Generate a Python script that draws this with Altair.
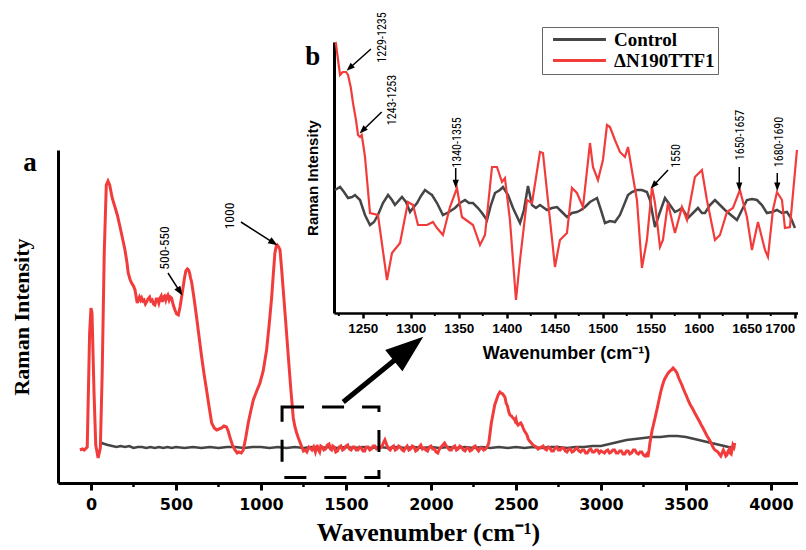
import altair as alt
import pandas as pd

# ---------------- data ----------------
SERIES = ["Control", "ΔN190TTF1"]
SERIES_COLORS = ["#454545", "#f23c3c"]

# main panel (a): (wavenumber, intensity a.u.)
main_mutant = [
    (-65, 33), (-50, 34), (-40, 33), (-22, 36), (-8, 150), (0, 175), (6, 170), (18, 90), (28, 38),
    (42, 25), (55, 35), (66, 110), (78, 230), (90, 298), (100, 302), (110, 298), (125, 285), (141, 276),
    (155, 268), (171, 256), (185, 245), (200, 233), (212, 220), (219, 210), (229, 204), (239, 200),
    (250, 197), (259, 193), (266, 186), (272, 180), (280, 184), (285, 186), (292, 183), (298, 185),
    (305, 182), (312, 183), (320, 179), (327, 181), (335, 184), (345, 186), (352, 182), (360, 183),
    (368, 179), (376, 178), (384, 184), (392, 184), (399, 180), (406, 185), (413, 187), (420, 181),
    (427, 186), (433, 187), (440, 183), (445, 186), (452, 188), (460, 183), (467, 186), (474, 185),
    (484, 178), (494, 173), (504, 169), (514, 168), (524, 176), (533, 186), (542, 196), (550, 205),
    (558, 212), (567, 214), (574, 213), (580, 210), (586, 205), (592, 201), (606, 185), (621, 166),
    (636, 146), (651, 126), (666, 108), (680, 93), (695, 76), (710, 60), (725, 55), (739, 53),
    (753, 54), (768, 55), (782, 57), (797, 56), (807, 52), (817, 46), (832, 38), (847, 33), (860, 30),
    (870, 31), (884, 30), (896, 33), (910, 45), (925, 60), (940, 72), (955, 83), (975, 92), (994, 100),
    (1013, 112), (1033, 133), (1048, 158), (1063, 186), (1073, 210), (1082, 230), (1090, 237),
    (1096, 238), (1104, 236), (1112, 233), (1121, 215), (1131, 193), (1146, 160), (1161, 126),
    (1175, 95), (1190, 65), (1200, 56), (1210, 50), (1220, 45), (1229, 41), (1240, 36), (1250, 32),
    (1260, 33), (1270, 31), (1282, 36), (1290, 35), (1300, 33), (1310, 36), (1320, 31), (1330, 38),
    (1338, 33), (1345, 31), (1352, 37), (1360, 36), (1370, 33), (1380, 34), (1390, 38), (1400, 39),
    (1408, 34), (1415, 33), (1422, 37), (1430, 36), (1440, 31), (1450, 32), (1460, 36), (1470, 37),
    (1480, 33), (1490, 34), (1500, 37), (1510, 38), (1520, 34), (1530, 33), (1540, 36), (1550, 36),
    (1560, 33), (1570, 33), (1580, 36), (1590, 35), (1600, 32), (1610, 32), (1620, 36), (1630, 36),
    (1640, 33), (1650, 34), (1660, 37), (1670, 37), (1680, 34), (1690, 35), (1700, 35), (1710, 36),
    (1720, 40), (1729, 43), (1738, 39), (1745, 36), (1752, 34), (1760, 33), (1770, 36), (1780, 37),
    (1790, 33), (1800, 34), (1810, 37), (1820, 36), (1830, 33), (1840, 32), (1850, 35), (1860, 37),
    (1870, 33), (1880, 34), (1890, 37), (1900, 36), (1910, 32), (1920, 33), (1930, 36), (1940, 38),
    (1950, 34), (1960, 35), (1970, 33), (1980, 32), (1990, 36), (2000, 37), (2010, 34), (2020, 34),
    (2030, 31), (2040, 30), (2050, 34), (2060, 36), (2070, 38), (2080, 40), (2090, 37), (2100, 35),
    (2110, 33), (2120, 33), (2130, 36), (2140, 37), (2150, 33), (2160, 34), (2170, 37), (2180, 36),
    (2190, 33), (2200, 32), (2210, 35), (2220, 35), (2230, 32), (2240, 33), (2250, 36), (2260, 37),
    (2270, 34), (2280, 32), (2290, 35), (2300, 35), (2310, 33), (2320, 34), (2330, 36), (2340, 40),
    (2355, 60), (2375, 78), (2395, 88), (2405, 91), (2412, 90), (2422, 89), (2435, 86), (2442, 80),
    (2450, 77), (2458, 71), (2465, 68), (2474, 67), (2482, 65), (2490, 64), (2495, 62), (2500, 64),
    (2505, 60), (2512, 58), (2520, 59), (2528, 60), (2535, 58), (2542, 55), (2550, 52), (2558, 50),
    (2565, 48), (2572, 44), (2580, 42), (2590, 40), (2600, 38), (2610, 37), (2620, 36), (2630, 34),
    (2641, 35), (2650, 36), (2660, 37), (2670, 34), (2680, 33), (2690, 36), (2700, 35), (2710, 32),
    (2720, 32), (2730, 35), (2740, 36), (2750, 33), (2760, 33), (2770, 35), (2780, 35), (2790, 32),
    (2800, 31), (2810, 34), (2820, 34), (2830, 31), (2840, 32), (2850, 34), (2860, 35), (2870, 32),
    (2880, 31), (2890, 33), (2900, 33), (2910, 30), (2920, 30), (2930, 33), (2940, 34), (2950, 31),
    (2960, 31), (2970, 33), (2980, 33), (2990, 30), (3000, 32), (3010, 31), (3020, 30), (3030, 32),
    (3040, 33), (3050, 30), (3060, 31), (3070, 33), (3080, 33), (3090, 30), (3100, 30), (3110, 32),
    (3120, 32), (3130, 29), (3140, 29), (3150, 32), (3160, 32), (3170, 29), (3180, 30), (3190, 33),
    (3200, 33), (3210, 30), (3220, 29), (3230, 31), (3240, 31), (3250, 28), (3260, 27), (3270, 29),
    (3276, 26), (3282, 32), (3288, 40), (3300, 52), (3318, 65), (3330, 74), (3340, 82), (3350, 90),
    (3359, 96), (3368, 101), (3375, 104), (3388, 108), (3396, 110), (3405, 112), (3414, 113),
    (3424, 115), (3435, 113), (3447, 110), (3453, 107), (3460, 104), (3468, 101), (3476, 98),
    (3485, 94), (3495, 90), (3503, 87), (3512, 83), (3526, 78), (3540, 74), (3552, 70), (3565, 66),
    (3578, 62), (3590, 58), (3600, 55), (3612, 51), (3624, 47), (3635, 44), (3645, 41), (3653, 38),
    (3662, 35), (3670, 33), (3680, 32), (3688, 31), (3696, 29), (3705, 27), (3712, 30), (3720, 33),
    (3728, 30), (3735, 27), (3741, 28), (3748, 32), (3755, 34), (3760, 30), (3766, 29), (3771, 33),
    (3776, 38), (3782, 36), (3787, 40),
]

main_control = [
    (55, 38), (65, 40), (80, 39), (100, 38), (125, 37), (150, 36), (175, 37), (200, 36), (225, 37),
    (250, 35), (275, 36), (300, 36), (325, 35), (350, 36), (375, 35), (400, 36), (425, 35), (450, 36),
    (475, 35), (500, 36), (550, 35), (600, 36), (650, 35), (700, 36), (750, 35), (800, 36), (850, 36),
    (900, 35), (950, 36), (1000, 36), (1050, 35), (1100, 36), (1150, 35), (1200, 36), (1250, 35),
    (1300, 36), (1350, 35), (1400, 36), (1450, 35), (1500, 36), (1550, 35), (1600, 36), (1650, 35),
    (1700, 36), (1750, 35), (1800, 36), (1850, 35), (1900, 36), (1950, 35), (2000, 36), (2050, 35),
    (2100, 36), (2150, 35), (2200, 36), (2250, 35), (2300, 36), (2350, 35), (2400, 36), (2450, 35),
    (2500, 36), (2550, 35), (2600, 36), (2650, 35), (2700, 36), (2750, 36), (2800, 35), (2850, 36),
    (2900, 36), (2950, 37), (3000, 37), (3050, 39), (3100, 41), (3150, 43), (3200, 44), (3250, 45),
    (3300, 46), (3350, 46), (3400, 47), (3450, 47), (3500, 46), (3550, 44), (3600, 42), (3650, 40),
    (3700, 38), (3750, 36), (3790, 35),
]

# inset panel (b): (wavenumber, intensity a.u.)
inset_mutant = [
    (1221.8, 271), (1224.2, 253), (1226.3, 238), (1229.1, 241), (1232.5, 241), (1234.6, 238),
    (1237.4, 226), (1239.8, 210), (1242.9, 193), (1245.0, 178), (1247.1, 176), (1248.9, 178),
    (1250.2, 170), (1252.3, 156), (1257.5, 100), (1265.8, 98), (1275.2, 33), (1280.4, 60),
    (1288.8, 70), (1297.1, 111), (1302.3, 108), (1307.5, 88), (1316.9, 88), (1323.1, 91),
    (1327.3, 85), (1333.5, 78), (1340.8, 106), (1348.1, 125), (1353.3, 96), (1364.8, 88),
    (1372.1, 68), (1377.3, 78), (1384.6, 146), (1389.8, 146), (1395.0, 131), (1398.1, 135),
    (1403.3, 93), (1409.6, 13), (1413.8, 53), (1421.0, 113), (1426.3, 110), (1434.6, 161),
    (1437.7, 160), (1450.2, 46), (1455.4, 73), (1462.7, 80), (1467.9, 125), (1473.1, 120),
    (1479.4, 106), (1486.7, 170), (1489.8, 146), (1495.0, 133), (1500.2, 153), (1504.4, 188),
    (1507.5, 186), (1512.7, 173), (1517.9, 161), (1523.1, 156), (1526.3, 166), (1531.5, 136),
    (1535.6, 113), (1540.8, 45), (1546.0, 73), (1551.3, 126), (1554.4, 110), (1559.6, 66),
    (1562.7, 73), (1567.9, 110), (1575.2, 80), (1582.5, 106), (1587.7, 93), (1596.0, 136),
    (1603.3, 143), (1608.5, 113), (1616.9, 73), (1622.1, 78), (1629.4, 101), (1635.6, 105),
    (1642.9, 123), (1650.2, 96), (1655.4, 63), (1661.7, 91), (1669.0, 63), (1672.1, 56),
    (1677.3, 103), (1681.5, 121), (1686.7, 113), (1689.8, 85), (1695.0, 86), (1702.3, 163),
]

inset_control = [
    (1221.0, 123), (1226.3, 126), (1230.4, 121), (1234.6, 115), (1238.8, 116), (1241.9, 118),
    (1247.1, 113), (1252.3, 98), (1257.5, 88), (1261.7, 91), (1265.8, 98), (1271.0, 110),
    (1276.3, 118), (1280.4, 113), (1283.5, 108), (1290.8, 116), (1295.0, 111), (1299.2, 101),
    (1302.3, 105), (1306.5, 110), (1310.6, 117), (1314.8, 123), (1319.0, 120), (1322.1, 118),
    (1327.3, 110), (1333.5, 98), (1339.8, 101), (1346.0, 105), (1351.3, 110), (1356.5, 113),
    (1360.6, 110), (1364.8, 110), (1370.0, 105), (1374.2, 100), (1379.4, 93), (1383.5, 108),
    (1387.7, 120), (1392.9, 123), (1396.0, 126), (1401.3, 118), (1406.5, 105), (1413.8, 90),
    (1417.9, 103), (1422.1, 127), (1426.3, 108), (1430.4, 105), (1434.6, 108), (1441.9, 103),
    (1447.1, 105), (1452.3, 106), (1457.5, 101), (1462.7, 96), (1467.9, 100), (1473.1, 101),
    (1477.3, 103), (1481.5, 106), (1486.7, 111), (1494.0, 115), (1498.1, 103), (1502.3, 90),
    (1507.5, 92), (1512.7, 91), (1517.9, 98), (1522.1, 108), (1526.3, 118), (1530.4, 121),
    (1535.6, 123), (1540.8, 123), (1546.0, 121), (1549.2, 113), (1554.4, 86), (1559.6, 101),
    (1564.8, 115), (1570.0, 108), (1575.2, 101), (1579.4, 103), (1582.5, 105), (1588.8, 95),
    (1594.0, 100), (1599.2, 105), (1603.3, 100), (1606.5, 100), (1611.7, 108), (1616.9, 113),
    (1622.1, 108), (1627.3, 103), (1633.5, 98), (1639.8, 93), (1645.0, 103), (1650.2, 113),
    (1655.4, 114), (1660.6, 113), (1665.8, 108), (1671.0, 100), (1676.3, 101), (1681.5, 103),
    (1686.7, 100), (1691.9, 101), (1696.0, 95), (1700.2, 85),
]

main_tick_values = [0, 500, 1000, 1500, 2000, 2500, 3000, 3500, 4000]
main_minor_ticks = [250, 750, 1250, 1750, 2250, 2750, 3250, 3750]
inset_tick_values = [1250, 1300, 1350, 1400, 1450, 1500, 1550, 1600, 1650, 1700]
inset_minor_ticks = [1225, 1275, 1325, 1375, 1425, 1475, 1525, 1575, 1625, 1675]

# annotations: label, label position, arrow start -> arrow head, head direction (deg)
main_notes = [
    ("500-550", 435, 235, 453, 210, 523, 191.4, 147.5),
    ("1000", 818, 267, 882, 261, 1074, 240.2, 122.6),
]
inset_notes = [
    ("1229-1235", 1270, 275.5, 1258.5, 264, 1236.3, 245, 228),
    ("1243-1253", 1280.4, 213, 1269.7, 201, 1249.8, 182.5, 226),
    ("1340-1355", 1348, 170.5, 1346.8, 145, 1346.8, 129, 180),
    ("1550", 1576, 157, 1568, 143, 1552.8, 127.6, 224),
    ("1650-1657", 1643, 178, 1642.2, 146, 1642.2, 126.3, 180),
    ("1680-1690", 1683.5, 171, 1681.8, 140, 1681.8, 126.3, 180),
]
zoom_box = [(1124, 1694, 5.5, 76)]
zoom_arrow = [(1484, 81, 1868, 134.3, 50.9)]
panel_a = [("a", -359, 320)]
panel_b = [("b", 1198, 256)]

# ---------------- styling ----------------
BLACK = "black"
HEAD = "M0,-1L0.75,1L-0.75,1Z"
BIG_HEAD = "M0,-1L0.72,1L-0.72,1Z"
NOTE_FONT = "Liberation Sans Narrow, Roboto Condensed, Liberation Sans, sans-serif"

MX = alt.Scale(domain=[-194, 4159], range=[0, 740], nice=False, zero=False)
MY = alt.Scale(domain=[0, 333], range=[463, 130], nice=False, zero=False)
IX = alt.Scale(domain=[1220, 1703.4], range=[276, 740], nice=False, zero=False)
IY = alt.Scale(domain=[0, 271], range=[293, 22], nice=False, zero=False)

main_x_axis = alt.Axis(
    values=main_tick_values, format="d", grid=False, labelOverlap=False, labelFlush=False,
    domainWidth=3, domainColor=BLACK, tickWidth=3, tickColor=BLACK, tickSize=7,
    labelFont="DejaVu Sans", labelFontWeight="bold", labelFontSize=16, labelColor=BLACK,
    labelPadding=6, title="Wavenumber (cm⁻¹)", titleFont="Liberation Serif",
    titleFontSize=26, titleFontWeight="bold", titleColor=BLACK, titleY=57,
    titleBaseline="alphabetic",
)
main_y_axis = alt.Axis(
    grid=False, ticks=False, labels=False, domainWidth=3, domainColor=BLACK,
    title="Raman Intensity", titleFont="Liberation Serif", titleFontSize=22,
    titleFontWeight="bold", titleColor=BLACK, titleX=-25, titleY=296.5, titleAngle=270,
    titleBaseline="bottom", titleAlign="center",
)
inset_x_axis = alt.Axis(
    orient="bottom", offset=-170, values=inset_tick_values, format="d", grid=False,
    labelOverlap=False, labelFlush=False, domainWidth=2.5, domainColor=BLACK,
    tickWidth=2.5, tickColor=BLACK, tickSize=5, labelFont="Liberation Sans",
    labelFontWeight="bold", labelFontSize=13.5, labelColor=BLACK, labelPadding=3,
    labelAlign={
        "condition": {"test": f"datum.value >= {inset_tick_values[-1]}", "value": "right"},
        "value": "center",
    },
    title="Wavenumber (cm⁻¹)", titleFont="Liberation Sans", titleFontSize=18,
    titleFontWeight="bold", titleColor=BLACK, titleY=45, titleBaseline="alphabetic",
)
inset_y_axis = alt.Axis(
    orient="left", offset=-276, grid=False, ticks=False, labels=False, domainWidth=3,
    domainColor=BLACK, title="Raman Intensity", titleFont="Liberation Sans",
    titleFontSize=15, titleFontWeight="bold", titleColor=BLACK, titleX=-14,
    titleY=157.5, titleAngle=270, titleBaseline="bottom", titleAlign="center",
)

PANELS = {
    "main": (MX, MY, main_x_axis, main_y_axis),
    "inset": (IX, IY, inset_x_axis, inset_y_axis),
}


def X(field, panel):
    xs, _, xa, _ = PANELS[panel]
    return alt.X(field, type="quantitative", scale=xs, axis=xa)


def Y(field, panel):
    _, ys, _, ya = PANELS[panel]
    return alt.Y(field, type="quantitative", scale=ys, axis=ya)


legend = alt.Legend(
    title=None, orient="none", legendX=484, legendY=7, symbolType="M-10,0H10",
    symbolSize=28, symbolStrokeWidth=3, symbolOffset=25, labelOffset=25,
    labelFont="Liberation Serif", labelFontWeight="bold", labelFontSize=19,
    labelColor=BLACK, strokeColor="#666666", fillColor="white", padding=3, rowPadding=1,
)
color_enc = alt.Color("series:N", scale=alt.Scale(domain=SERIES, range=SERIES_COLORS), legend=legend)


def series_frame(pairs, name):
    return pd.DataFrame(pairs, columns=["wn", "inten"]).assign(series=name)


def notes_frame(rows):
    return pd.DataFrame(rows, columns=["label", "tx", "ty", "x0", "y0", "x1", "y1", "ang"])


def annotation_layers(df, panel, size, font_size):
    text = alt.Chart(df).mark_text(angle=270, font=NOTE_FONT, fontSize=font_size, color=BLACK).encode(
        x=X("tx", panel), y=Y("ty", panel), text="label:N")
    rule = alt.Chart(df).mark_rule(color=BLACK, strokeWidth=1.5).encode(
        x=X("x0", panel), y=Y("y0", panel), x2="x1:Q", y2="y1:Q")
    head = alt.Chart(df).mark_point(shape=HEAD, filled=True, size=size, color=BLACK, opacity=1).encode(
        x=X("x1", panel), y=Y("y1", panel), angle=alt.Angle("ang:Q", scale=None))
    return [rule, head, text]


def minor_tick_layer(values, panel, length, width):
    df = pd.DataFrame({"wn": values, "y0": 0, "y1": -length})
    return alt.Chart(df).mark_rule(color=BLACK, strokeWidth=width).encode(
        x=X("wn", panel), y=Y("y0", panel), y2="y1:Q")


# ---------------- main panel ----------------
mc = series_frame(main_control, SERIES[0])
mm = series_frame(main_mutant, SERIES[1])

main_ctrl_line = alt.Chart(mc).mark_line(color=SERIES_COLORS[0], strokeWidth=2.6).encode(
    x=X("wn", "main"), y=Y("inten", "main"))
main_mut_line = alt.Chart(mm).mark_line(color=SERIES_COLORS[1], strokeWidth=3).encode(
    x=X("wn", "main"), y=Y("inten", "main"))

box_df = pd.DataFrame(zoom_box, columns=["x0", "x1", "y0", "y1"])
box = alt.Chart(box_df).mark_rect(fillOpacity=0, stroke=BLACK, strokeWidth=3, strokeDash=[22, 18]).encode(
    x=X("x0", "main"), x2="x1:Q", y=Y("y0", "main"), y2="y1:Q")

arrow_df = pd.DataFrame(zoom_arrow, columns=["x0", "y0", "x1", "y1", "ang"])
big_rule = alt.Chart(arrow_df).mark_rule(color=BLACK, strokeWidth=5).encode(
    x=X("x0", "main"), y=Y("y0", "main"), x2="x1:Q", y2="y1:Q")
big_head = alt.Chart(arrow_df).mark_point(shape=BIG_HEAD, filled=True, size=1444, color=BLACK, opacity=1).encode(
    x=X("x1", "main"), y=Y("y1", "main"), angle=alt.Angle("ang:Q", scale=None))

a_df = pd.DataFrame(panel_a, columns=["label", "x", "y"])
a_text = alt.Chart(a_df).mark_text(font="Liberation Serif", fontSize=27, fontWeight="bold", color=BLACK).encode(
    x=X("x", "main"), y=Y("y", "main"), text="label:N")

main_group = alt.layer(
    main_ctrl_line, main_mut_line, minor_tick_layer(main_minor_ticks, "main", 4, 2.5),
    box, big_rule, big_head, a_text, *annotation_layers(notes_frame(main_notes), "main", 90, 13.5),
)

# ---------------- inset panel ----------------
ic = series_frame(inset_control, SERIES[0])
im = series_frame(inset_mutant, SERIES[1])

inset_ctrl_line = alt.Chart(ic).mark_line(strokeWidth=2.5).encode(
    x=X("wn", "inset"), y=Y("inten", "inset"), color=color_enc)
inset_mut_line = alt.Chart(im).mark_line(strokeWidth=2.2).encode(
    x=X("wn", "inset"), y=Y("inten", "inset"), color=color_enc)

b_df = pd.DataFrame(panel_b, columns=["label", "x", "y"])
b_text = alt.Chart(b_df).mark_text(font="Liberation Serif", fontSize=27, fontWeight="bold", color=BLACK).encode(
    x=X("x", "inset"), y=Y("y", "inset"), text="label:N")

inset_group = alt.layer(
    inset_ctrl_line, inset_mut_line, minor_tick_layer(inset_minor_ticks, "inset", 3, 2),
    b_text, *annotation_layers(notes_frame(inset_notes), "inset", 70, 12),
)

chart = (
    alt.layer(main_group, inset_group)
    .resolve_scale(x="independent", y="independent")
    .properties(
        width=740, height=463,
        padding={"left": 50, "top": 12, "right": 0, "bottom": 67},
        autosize=alt.AutoSizeParams(type="none"),
    )
    .configure_view(strokeWidth=0)
)

chart.save("out.html", embed_options={"renderer": "svg", "actions": False})
